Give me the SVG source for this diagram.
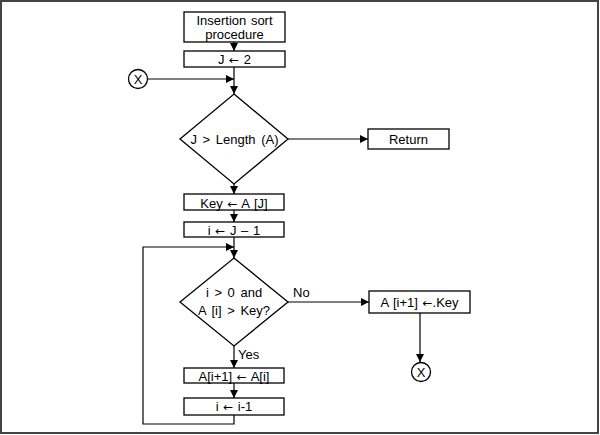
<svg xmlns="http://www.w3.org/2000/svg" width="600" height="435" viewBox="0 0 600 435">
<defs>
<marker id="ah" viewBox="0 0 10 10" refX="10" refY="5" markerWidth="8" markerHeight="8" markerUnits="userSpaceOnUse" orient="auto">
<path d="M0,0 L10,5 L0,10 z" fill="#000"/>
</marker>
</defs>
<style>
.box{fill:#fff;stroke:#000;stroke-width:1.3}
.t{font-family:"Liberation Sans",Arial,sans-serif;font-size:13px;fill:#000;text-anchor:middle;word-spacing:1px}
.tl{font-family:"Liberation Sans",Arial,sans-serif;font-size:13px;fill:#000}
.ar{font-family:"DejaVu Sans",sans-serif;font-size:12px}
.c{fill:none;stroke:#000;stroke-width:1.2}
.a{fill:none;stroke:#000;stroke-width:1.2;marker-end:url(#ah)}
</style>
<rect x="1" y="1" width="597" height="432" fill="#fff" stroke="#444" stroke-width="2"/>
<g id="connectors">
<line class="a" x1="234" y1="42" x2="234" y2="51"/>
<line class="c" x1="234" y1="67" x2="234" y2="79"/>
<line class="a" x1="148" y1="79" x2="234" y2="79"/>
<line class="a" x1="234" y1="79" x2="234" y2="94"/>
<line class="a" x1="288" y1="139" x2="368" y2="139"/>
<line class="a" x1="234" y1="184" x2="234" y2="194"/>
<line class="a" x1="234" y1="210" x2="234" y2="222"/>
<line class="c" x1="234" y1="237" x2="234" y2="247"/>
<polyline class="a" points="234,415 234,424 143,424 143,247 234,247"/>
<line class="a" x1="234" y1="247" x2="234" y2="258"/>
<line class="a" x1="288" y1="302" x2="369" y2="302"/>
<line class="a" x1="420" y1="313" x2="420" y2="362"/>
<line class="a" x1="234" y1="346" x2="234" y2="368"/>
<line class="a" x1="234" y1="383" x2="234" y2="398"/>
<text class="tl" x="293" y="297">No</text>
<text class="tl" x="238" y="359">Yes</text>
</g>
<g id="start">
<rect class="box" x="184" y="12" width="101" height="30"/>
<text class="t" x="234.5" y="25">Insertion sort</text>
<text class="t" x="234.5" y="38.5">procedure</text>
</g>
<g id="initJ">
<rect class="box" x="184" y="51" width="101" height="16"/>
<text class="t" x="234.5" y="64">J <tspan class="ar">←</tspan> 2</text>
</g>
<g id="connectorX1">
<circle class="box" cx="138" cy="79" r="9.5"/>
<text class="t" x="138" y="83.5">X</text>
</g>
<g id="decision1">
<polygon class="box" points="234,94 288,139 234,184 180,139"/>
<text class="t" x="234.5" y="144" style="word-spacing:2px">J &gt; Length (A)</text>
</g>
<g id="return">
<rect class="box" x="368" y="129" width="81" height="20"/>
<text class="t" x="408.5" y="144">Return</text>
</g>
<g id="keyAssign">
<rect class="box" x="184" y="194" width="100" height="16"/>
<text class="t" x="234" y="207.5">Key <tspan class="ar">←</tspan> A [J]</text>
</g>
<g id="iAssign">
<rect class="box" x="184" y="222" width="100" height="15"/>
<text class="t" x="234" y="234.5">i <tspan class="ar">←</tspan> J – 1</text>
</g>
<g id="decision2">
<polygon class="box" points="234,258 288,302 234,346 180,302"/>
<text class="t" x="234" y="297" style="word-spacing:2px">i &gt; 0 and</text>
<text class="t" x="234" y="315" style="word-spacing:2px">A [i] &gt; Key?</text>
</g>
<g id="insertKey">
<rect class="box" x="369" y="291" width="101" height="22"/>
<text class="t" x="419.5" y="306.5">A [i+1] <tspan class="ar">←</tspan>.Key</text>
</g>
<g id="connectorX2">
<circle class="box" cx="421" cy="372" r="9.5"/>
<text class="t" x="421" y="376.5">X</text>
</g>
<g id="shift">
<rect class="box" x="184" y="368" width="100" height="15"/>
<text class="t" x="234" y="380.5">A[i+1] <tspan class="ar">←</tspan> A[i]</text>
</g>
<g id="decrement">
<rect class="box" x="184" y="398" width="100" height="17"/>
<text class="t" x="234" y="411">i <tspan class="ar">←</tspan> i-1</text>
</g>
</svg>
